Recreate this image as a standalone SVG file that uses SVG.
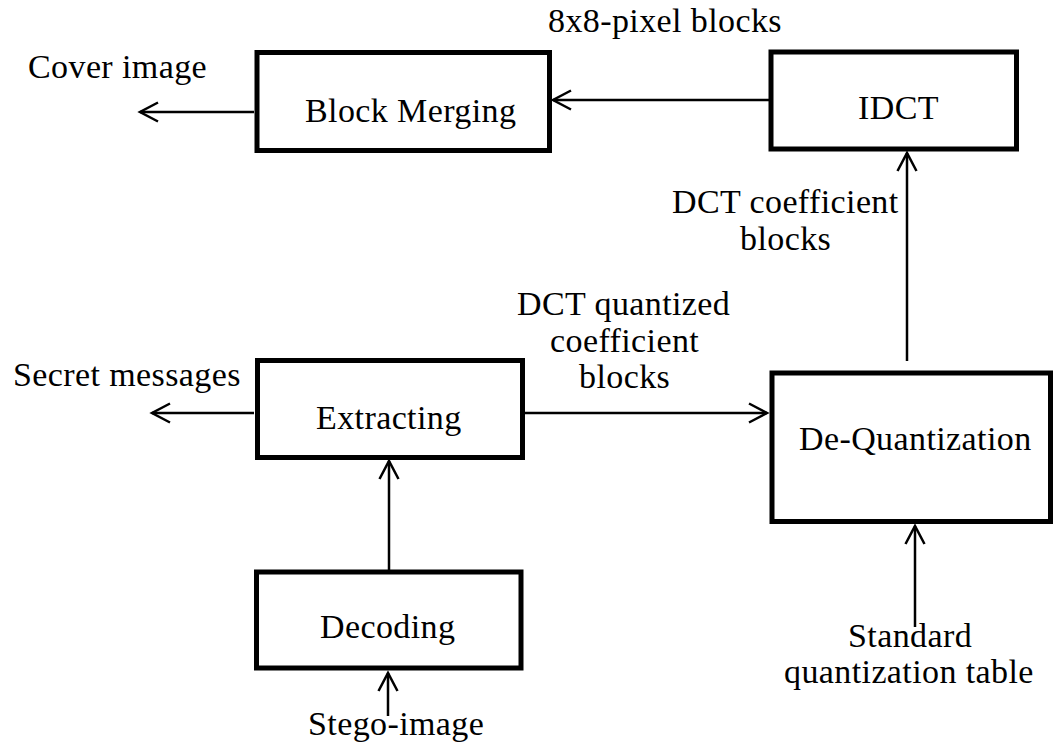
<svg xmlns="http://www.w3.org/2000/svg" width="1054" height="742" viewBox="0 0 1054 742">
<style>
.box{fill:#fff;stroke:#000;stroke-width:5}
.lbl{font-family:"Liberation Serif","Times New Roman",serif;font-size:34px;letter-spacing:0.4px;fill:#000}
.conn{fill:none;stroke:#000;stroke-width:2.5;marker-end:url(#arr)}
</style>
<defs>
<marker id="arr" markerUnits="userSpaceOnUse" viewBox="-22 -12 24 24" refX="0" refY="0" markerWidth="24" markerHeight="24" orient="auto" overflow="visible">
<path d="M-18,-9.5 L0,0 L-18,9.5" fill="none" stroke="#000" stroke-width="2.5"/>
</marker>
</defs>
<rect width="1054" height="742" fill="#fff"/>
<g id="connectors">
<line class="conn" x1="771" y1="100" x2="553" y2="100"/>
<line class="conn" x1="254" y1="112" x2="140" y2="112"/>
<line class="conn" x1="907" y1="361" x2="907" y2="153"/>
<line class="conn" x1="254" y1="413" x2="152" y2="413"/>
<line class="conn" x1="522" y1="413" x2="767" y2="413"/>
<line class="conn" x1="389" y1="570" x2="389" y2="461"/>
<line class="conn" x1="388" y1="716" x2="388" y2="673"/>
<line class="conn" x1="915" y1="627" x2="915" y2="526"/>
</g>
<g id="block-merging">
<rect class="box" x="257" y="52.5" width="292.5" height="98"/>
<text class="lbl" x="305" y="122">Block Merging</text>
</g>
<g id="idct">
<rect class="box" x="771" y="52" width="245.5" height="97"/>
<text class="lbl" x="858" y="119">IDCT</text>
</g>
<g id="extracting">
<rect class="box" x="257.5" y="360.5" width="265" height="97"/>
<text class="lbl" x="316" y="429">Extracting</text>
</g>
<g id="decoding">
<rect class="box" x="256.5" y="572" width="264.5" height="96"/>
<text class="lbl" x="320" y="638">Decoding</text>
</g>
<g id="de-quantization">
<rect class="box" x="772" y="373" width="278.5" height="148.5"/>
<text class="lbl" x="799" y="450">De-Quantization</text>
</g>
<g id="labels">
<text class="lbl" x="28" y="78">Cover image</text>
<text class="lbl" x="548" y="32">8x8-pixel blocks</text>
<text class="lbl" x="672" y="213">DCT coefficient</text>
<text class="lbl" x="740" y="250">blocks</text>
<text class="lbl" x="517" y="315">DCT quantized</text>
<text class="lbl" x="550" y="352">coefficient</text>
<text class="lbl" x="579" y="388">blocks</text>
<text class="lbl" x="13" y="386">Secret messages</text>
<text class="lbl" x="308" y="735">Stego-image</text>
<text class="lbl" x="848" y="647">Standard</text>
<text class="lbl" x="784" y="683">quantization table</text>
</g>
</svg>
